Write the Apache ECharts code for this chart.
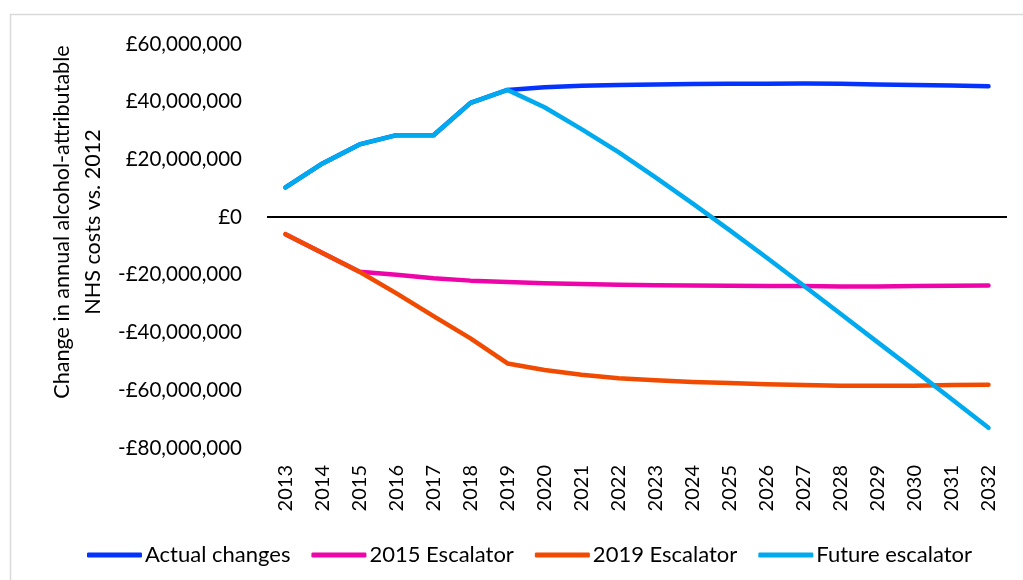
<!DOCTYPE html>
<html>
<head>
<meta charset="utf-8">
<script src="https://cdn.jsdelivr.net/npm/echarts@6/dist/echarts.min.js"></script>
<style>
  html, body { margin: 0; padding: 0; background: #fff; }
  #chart { width: 1023px; height: 580px; }
</style>
</head>
<body>
<div id="chart"></div>
<script>
const years = ["2013", "2014", "2015", "2016", "2017", "2018", "2019", "2020", "2021", "2022",
  "2023", "2024", "2025", "2026", "2027", "2028", "2029", "2030", "2031", "2032"];

const actualChanges = [10300000, 18600000, 25200000, 28400000, 28400000, 39600000, 44100000,
  45000000, 45500000, 45800000, 46000000, 46100000, 46200000, 46200000, 46300000, 46200000,
  46000000, 45800000, 45600000, 45400000];

const escalator2015 = [-5900000, -12400000, -18900000, -20000000, -21200000, -22000000, -22500000,
  -22900000, -23200000, -23400000, -23600000, -23700000, -23800000, -23900000, -23900000,
  -24000000, -24000000, -23900000, -23800000, -23700000];

const escalator2019 = [-5900000, -12400000, -18900000, -26400000, -34300000, -42000000, -50700000,
  -53000000, -54600000, -55800000, -56500000, -57100000, -57500000, -57900000, -58200000,
  -58400000, -58400000, -58400000, -58200000, -58100000];

const futureEscalator = [10300000, 18600000, 25200000, 28400000, 28400000, 39600000, 44100000,
  38100000, 30500000, 22500000, 13800000, 4800000, -4500000, -14000000, -23700000, -33500000,
  -43300000, -53100000, -63000000, -73000000];

const yTicks = { min: -80000000, max: 60000000, step: 20000000 };

const font = "Lato, 'Open Sans', sans-serif";

function money(v) {
  const s = String(Math.abs(v)).replace(/\B(?=(\d{3})+(?!\d))/g, ",");
  return (v < 0 ? "-" : "") + "£" + s;
}

function lineSeries(name, data, color) {
  return {
    name: name,
    type: "line",
    data: data,
    symbol: "none",
    smooth: false,
    lineStyle: { color: color, width: 4.5, cap: "round", join: "round" },
    itemStyle: { color: color },
  };
}

const chart = echarts.init(document.getElementById("chart"), null, { renderer: "canvas" });

const series = [
  lineSeries("Actual changes", actualChanges, "#0433FF"),
  lineSeries("2015 Escalator", escalator2015, "#EE05AA"),
  lineSeries("2019 Escalator", escalator2019, "#F04B00"),
  lineSeries("Future escalator", futureEscalator, "#00AAEE"),
];

// zero line drawn with the chart's own y scale
series[0].markLine = {
  silent: true,
  symbol: "none",
  label: { show: false },
  lineStyle: { color: "#000", width: 2, type: "solid" },
  data: [{ yAxis: 0 }],
  z: 1,
};

const option = {
  animation: false,
  backgroundColor: "#fff",
  textStyle: { fontFamily: font },
  grid: { left: 267, right: 16, top: 44, bottom: 132, containLabel: false },
  xAxis: {
    type: "category",
    data: years,
    boundaryGap: true,
    axisLine: { show: false },
    axisTick: { show: false },
    axisLabel: {
      interval: 0,
      rotate: 90,
      margin: 17,
      color: "#000",
      fontSize: 20,
      fontFamily: font,
    },
  },
  yAxis: {
    type: "value",
    min: yTicks.min,
    max: yTicks.max,
    interval: yTicks.step,
    axisLine: { show: false },
    axisTick: { show: false },
    splitLine: { show: false },
    axisLabel: {
      margin: 25,
      color: "#000",
      fontSize: 20.5,
      fontFamily: font,
      formatter: money,
    },
  },
  legend: {
    top: 539,
    left: 82,
    icon: "roundRect",
    itemWidth: 55,
    itemHeight: 5,
    itemGap: 21,
    textStyle: { color: "#000", fontSize: 22, fontFamily: font, padding: [0, 0, 0, -2] },
    data: series.map((s) => s.name),
  },
  graphic: [
    {
      type: "rect",
      silent: true,
      shape: { x: 10.5, y: 14.5, width: 1030, height: 600 },
      style: { fill: "none", stroke: "#d9d9d9", lineWidth: 1.5 },
    },
    {
      type: "text",
      silent: true,
      x: 78,
      y: 222,
      rotation: Math.PI / 2,
      style: {
        text: "Change in annual alcohol-attributable\nNHS costs vs. 2012",
        fontSize: 21.6,
        fontFamily: font,
        fill: "#000",
        align: "center",
        verticalAlign: "middle",
        lineHeight: 31,
      },
    },
  ],
  series: series,
};

chart.setOption(option);
</script>
</body>
</html>
